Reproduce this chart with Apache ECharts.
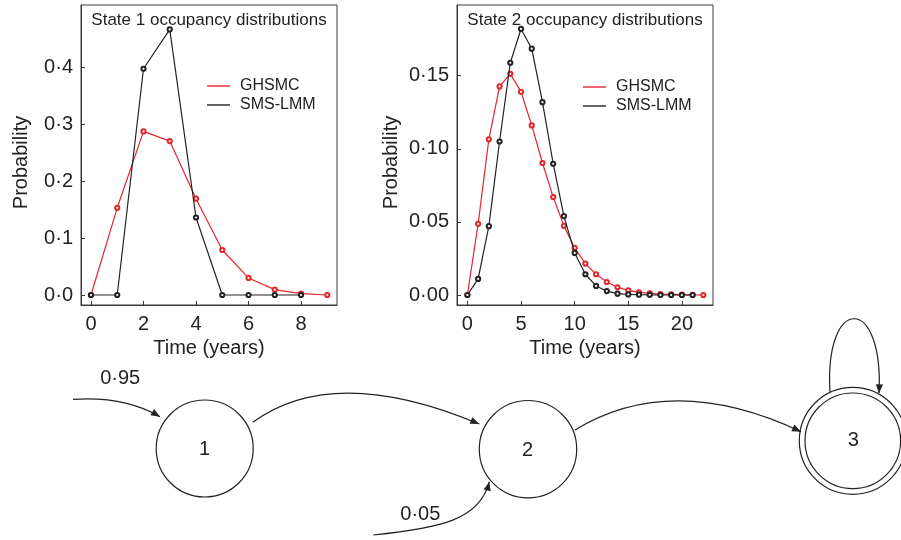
<!DOCTYPE html>
<html>
<head>
<meta charset="utf-8">
<script src="https://cdn.jsdelivr.net/npm/echarts@6/dist/echarts.min.js"></script>
<style>html,body{margin:0;padding:0;background:#fff}#c{width:901px;height:540px}</style>
</head>
<body>
<div id="c"></div>
<script>
// ---- data ----
var state1Time = [0, 1, 2, 3, 4, 5, 6, 7, 8, 9];
var state1GHSMC = [0, 0.153, 0.287, 0.270, 0.169, 0.079, 0.030, 0.0094, 0.0023, 0];
var state1SMSLMM = [0, 0, 0.397, 0.466, 0.136, 0, 0, 0, 0];
var state2Time = [0, 1, 2, 3, 4, 5, 6, 7, 8, 9, 10, 11, 12, 13, 14, 15, 16, 17, 18, 19, 20, 21, 22];
var state2GHSMC = [0, 0.0487, 0.1065, 0.1427, 0.1513, 0.139, 0.116, 0.0903, 0.067, 0.0473, 0.0322, 0.0215, 0.0142, 0.0089, 0.0053, 0.0032, 0.0018, 0.0011, 0.0006, 0.0004, 0.0002, 0.0001, 0];
var state2SMSLMM = [0, 0.011, 0.0471, 0.105, 0.1589, 0.182, 0.1685, 0.1319, 0.0898, 0.054, 0.0288, 0.0142, 0.0062, 0.0027, 0.0009, 0.0004, 0.0002, 0.0001, 0, 0, 0, 0];
var state1XTicks = [0, 2, 4, 6, 8];
var state1YTicks = [0, 0.1, 0.2, 0.3, 0.4];
var state2XTicks = [0, 5, 10, 15, 20];
var state2YTicks = [0, 0.05, 0.10, 0.15];
var seriesNames = ['GHSMC', 'SMS-LMM'];
var panelTitles = ['State 1 occupancy distributions', 'State 2 occupancy distributions'];
var xAxisName = 'Time (years)';
var yAxisName = 'Probability';
var diagramNodeLabels = ['1', '2', '3'];
var transitionLabels = ['0·95', '0·05'];

// ---- styles ----
var RED = '#e3262b', BLACK = '#222222', FRAME = '#3a3a3a', TEXT = '#222222';
var FONT = '"Liberation Sans", Arial, Helvetica, sans-serif';

function pairs(xs, ys) { return ys.map(function (y, i) { return [xs[i], y]; }); }
function dotFmt(dec) { return function (v) { return v.toFixed(dec).replace('.', '·'); }; }

function xAxis(gi, min, max, ticks) {
  return {
    type: 'value', gridIndex: gi, min: min, max: max,
    name: xAxisName, nameLocation: 'middle', nameGap: 25,
    nameTextStyle: { fontSize: 20, color: TEXT, fontFamily: FONT },
    axisLine: { show: true, onZero: false, lineStyle: { color: FRAME, width: 1 } },
    axisTick: { show: true, inside: true, length: 4, customValues: ticks, lineStyle: { color: FRAME } },
    axisLabel: { customValues: ticks, fontSize: 20, color: TEXT, fontFamily: FONT, margin: 9 },
    splitLine: { show: false }
  };
}
function yAxis(gi, min, max, ticks, dec, gap) {
  return {
    type: 'value', gridIndex: gi, min: min, max: max,
    name: yAxisName, nameLocation: 'middle', nameGap: gap,
    nameTextStyle: { fontSize: 20, color: TEXT, fontFamily: FONT, padding: [0, 15, 0, 0] },
    axisLine: { show: true, onZero: false, lineStyle: { color: FRAME, width: 1 } },
    axisTick: { show: true, inside: true, length: 4, customValues: ticks, lineStyle: { color: FRAME } },
    axisLabel: { customValues: ticks, fontSize: 20, color: TEXT, fontFamily: FONT, margin: 8, formatter: dotFmt(dec) },
    splitLine: { show: false }
  };
}
function lineSeries(name, gi, data, color, z) {
  return {
    type: 'line', name: name, xAxisIndex: gi, yAxisIndex: gi, data: data,
    symbol: 'emptyCircle', symbolSize: 4.2, showSymbol: true,
    lineStyle: { color: color, width: 1.2 },
    itemStyle: { color: color, borderColor: color, borderWidth: 1.1 },
    emphasis: { disabled: true }, animation: false, z: z
  };
}
function legend(left, top) {
  return {
    orient: 'vertical', left: left, top: top, padding: 0, itemGap: 3,
    itemWidth: 23, itemHeight: 1.4, icon: 'rect', selectedMode: false,
    textStyle: { fontSize: 16, color: TEXT, fontFamily: FONT, lineHeight: 16, padding: [0, 0, 0, 5] },
    data: [
      { name: seriesNames[0], itemStyle: { color: RED, borderWidth: 0 } },
      { name: seriesNames[1], itemStyle: { color: BLACK, borderWidth: 0 } }
    ]
  };
}

// ---- diagram (decoration) ----
var G = [];
var STROKE = { stroke: BLACK, lineWidth: 1.2, fill: null };
function circle(cx, cy, r) { G.push({ type: 'circle', shape: { cx: cx, cy: cy, r: r }, style: { stroke: BLACK, lineWidth: 1.2, fill: 'none' }, silent: true }); }
function label(x, y, t) { G.push({ type: 'text', x: x, y: y, style: { text: t, fontSize: 20, fontFamily: FONT, fill: TEXT, align: 'center', verticalAlign: 'middle' }, silent: true }); }
function head(tx, ty, fx, fy) {
  var dx = tx - fx, dy = ty - fy, l = Math.sqrt(dx * dx + dy * dy); dx /= l; dy /= l;
  var L = 9, W = 3.6, bx = tx - dx * L, by = ty - dy * L;
  G.push({ type: 'polygon', shape: { points: [[tx, ty], [bx - dy * W, by + dx * W], [bx + dy * W, by - dx * W]] }, style: { fill: BLACK }, silent: true });
}
function quad(x1, y1, cx, cy, x2, y2) {
  G.push({ type: 'bezierCurve', shape: { x1: x1, y1: y1, cpx1: cx, cpy1: cy, x2: x2, y2: y2 }, style: STROKE, silent: true });
  head(x2, y2, cx, cy);
}
function cubic(x1, y1, c1x, c1y, c2x, c2y, x2, y2) {
  G.push({ type: 'bezierCurve', shape: { x1: x1, y1: y1, cpx1: c1x, cpy1: c1y, cpx2: c2x, cpy2: c2y, x2: x2, y2: y2 }, style: STROKE, silent: true });
  head(x2, y2, c2x, c2y);
}
circle(204.7, 448.5, 48.5);
circle(528, 449.2, 48.7);
circle(852.8, 440.8, 53.5);
circle(852.8, 440.8, 47.8);
label(204.5, 449.5, diagramNodeLabels[0]);
label(527.5, 450.5, diagramNodeLabels[1]);
label(853.3, 440.5, diagramNodeLabels[2]);
label(120.2, 378, transitionLabels[0]);
label(420.3, 514, transitionLabels[1]);
quad(73, 399.3, 125, 396, 160, 416.7);
quad(252.7, 422.3, 334, 363, 479.3, 424);
quad(575, 430, 672, 371, 801, 431.7);
cubic(373.3, 535, 440, 528, 480, 520, 489.3, 481.7);
cubic(830, 392.7, 824, 294, 884, 294, 879, 393.3);

var chart = echarts.init(document.getElementById('c'), null, { renderer: 'canvas' });
chart.setOption({
  animation: false,
  backgroundColor: '#ffffff',
  textStyle: { fontFamily: FONT },
  title: [
    { text: panelTitles[0], left: 209, top: 12, textAlign: 'center', padding: 0, textStyle: { fontSize: 17, fontWeight: 'normal', color: TEXT, fontFamily: FONT } },
    { text: panelTitles[1], left: 585, top: 12, textAlign: 'center', padding: 0, textStyle: { fontSize: 17, fontWeight: 'normal', color: TEXT, fontFamily: FONT } }
  ],
  legend: [legend(207, 78), legend(583, 79)],
  grid: [
    { left: 81, top: 5, width: 256, height: 300, show: true, borderColor: FRAME, borderWidth: 1, containLabel: false },
    { left: 457, top: 5, width: 256, height: 300, show: true, borderColor: FRAME, borderWidth: 1, containLabel: false }
  ],
  xAxis: [xAxis(0, -0.38, 9.37, state1XTicks), xAxis(1, -0.97, 22.9, state2XTicks)],
  yAxis: [yAxis(0, -0.0175, 0.5088, state1YTicks, 1, 50), yAxis(1, -0.00684, 0.1984, state2YTicks, 2, 56)],
  series: [
    lineSeries(seriesNames[0], 0, pairs(state1Time, state1GHSMC), RED, 2),
    lineSeries(seriesNames[1], 0, pairs(state1Time, state1SMSLMM), BLACK, 3),
    lineSeries(seriesNames[0], 1, pairs(state2Time, state2GHSMC), RED, 2),
    lineSeries(seriesNames[1], 1, pairs(state2Time, state2SMSLMM), BLACK, 3)
  ],
  graphic: G
});
</script>
</body>
</html>
